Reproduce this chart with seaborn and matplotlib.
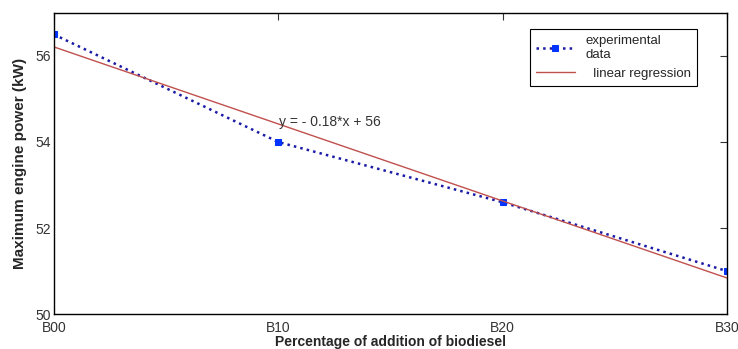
import matplotlib
matplotlib.use('Agg')
import matplotlib.pyplot as plt
import seaborn as sns
import numpy as np
import pandas as pd

blend_pct = [0, 10, 20, 30]
blend_labels = ['B00', 'B10', 'B20', 'B30']
max_power = [56.5, 54.0, 52.6, 51.0]
y_ticks = [50, 52, 54, 56]

sns.set_style('white')
plt.rcParams['font.family'] = ['Liberation Sans', 'DejaVu Sans']

df = pd.DataFrame({'pct': blend_pct, 'power': max_power})
slope, intercept = np.polyfit(df['pct'], df['power'], 1)
fit_df = pd.DataFrame({'pct': [blend_pct[0], blend_pct[-1]]})
fit_df['power'] = slope * fit_df['pct'] + intercept

fig = plt.figure(figsize=(7.38, 3.49), dpi=100)
ax = fig.add_axes([0.073, 0.100, 0.912, 0.863])

sns.lineplot(data=df, x='pct', y='power', ax=ax, color='#1a1aa6', linestyle=':',
             linewidth=1.8, marker='s', markersize=5, markerfacecolor='#0033ff',
             markeredgecolor='#0033ff', label='experimental\ndata')
sns.lineplot(data=fit_df, x='pct', y='power', ax=ax, color='#c0504d', linewidth=1.0,
             label='  linear regression')

ax.set_xlim(0, 30)
ax.set_ylim(50, 57)
ax.set_xticks(blend_pct)
ax.set_xticklabels(blend_labels)
ax.set_yticks(y_ticks)
ax.tick_params(direction='in', length=5, width=0.8, labelsize=10, colors='#333333',
               top=True, right=True, pad=2)
ax.tick_params(axis='x', pad=5)
for s in ax.spines.values():
    s.set_color('black')
    s.set_linewidth(1.0)

ax.set_xlabel('Percentage of addition of biodiesel', fontsize=10, fontweight='bold', labelpad=0)
ax.set_ylabel('Maximum engine power (kW)', fontsize=11, fontweight='bold', labelpad=6)

ax.text(10.05, 54.47, 'y = - %.2f*x + %d' % (-slope, round(intercept)), fontsize=10,
        color='#333333', va='center', ha='left')

leg = ax.legend(loc='upper right', bbox_to_anchor=(0.955, 0.947), borderaxespad=0,
                fontsize=9.5, frameon=True, fancybox=False, edgecolor='black',
                framealpha=1, handlelength=3, borderpad=0.45, labelspacing=0.5)
leg.get_frame().set_linewidth(0.8)
for t in leg.get_texts():
    t.set_linespacing(1.25)

fig.savefig('out.png', dpi=100)
